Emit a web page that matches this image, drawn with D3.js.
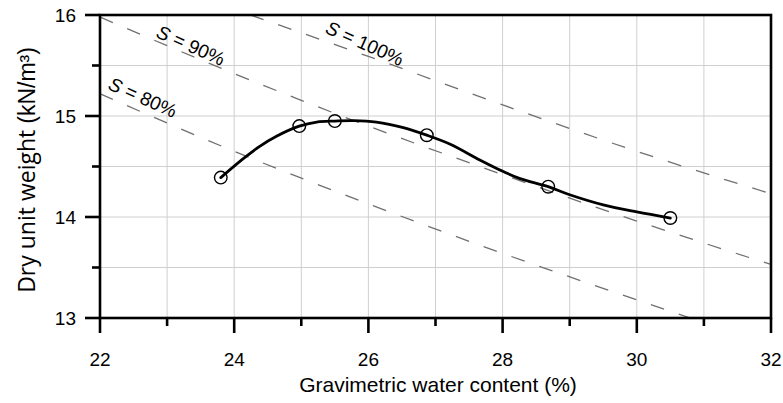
<!DOCTYPE html>
<html>
<head>
<meta charset="utf-8">
<script src="https://cdn.jsdelivr.net/npm/d3@7"></script>
<style>
  html, body { margin: 0; padding: 0; background: #fff; }
  svg { display: block; }
  text { font-family: "Liberation Sans", Arial, sans-serif; fill: #000; }
</style>
</head>
<body>
<svg id="chart" width="783" height="403"></svg>
<script>
// Compaction test results: water content (%) and dry unit weight (kN/m³)
const waterContent = [23.8, 24.97, 25.5, 26.87, 28.68, 30.5];
const dryUnitWeight = [14.39, 14.90, 14.95, 14.81, 14.30, 13.99];

// Fitted compaction curve through the test points (w %, γd kN/m³)
const fitW = [23.80, 24.14, 24.38, 24.63, 24.97, 25.23, 25.50, 25.78, 26.12, 26.52, 26.87,
              27.22, 27.66, 28.01, 28.26, 28.68, 29.00, 29.50, 30.00, 30.50];
const fitG = [14.39, 14.58, 14.70, 14.80, 14.90, 14.94, 14.95, 14.955, 14.94, 14.885, 14.81,
              14.72, 14.565, 14.45, 14.38, 14.30, 14.22, 14.12, 14.05, 13.99];

// Constant degree-of-saturation lines, points along each (w %, γd kN/m³)
const satLevels = [80, 90, 100];
const sat80 = [[22, 15.22], [24, 14.65], [26, 14.13], [28, 13.64], [30, 13.18], [30.8, 13.0]];
const sat90 = [[22, 15.98], [24, 15.42], [26, 14.90], [28, 14.42], [30, 13.96], [32, 13.53]];
const sat100 = [[24.24, 16.0], [26, 15.59], [28, 15.11], [30, 14.65], [32, 14.23]];

// Axis ticks
const xMajorTicks = [22, 24, 26, 28, 30, 32];
const xMinorTicks = [23, 25, 27, 29, 31];
const yMajorTicks = [13, 14, 15, 16];
const yMinorTicks = [13.5, 14.5, 15.5];

const svg = d3.select("#chart");
const plot = { left: 100, right: 771, top: 15, bottom: 318 };

const x = d3.scaleLinear().domain([22, 32]).range([plot.left, plot.right]);
const y = d3.scaleLinear().domain([13, 16]).range([plot.bottom, plot.top]);

svg.append("defs").append("clipPath").attr("id", "plot-clip")
  .append("rect").attr("x", plot.left).attr("y", plot.top)
  .attr("width", plot.right - plot.left).attr("height", plot.bottom - plot.top);

// Grid
const grid = svg.append("g").attr("stroke", "#cfcfcf").attr("stroke-width", 1);
grid.selectAll("line.v").data(xMinorTicks.concat(xMajorTicks.slice(1, -1)))
  .join("line").attr("class", "v")
  .attr("x1", d => x(d)).attr("x2", d => x(d))
  .attr("y1", plot.top).attr("y2", plot.bottom);
grid.selectAll("line.h").data(yMinorTicks.concat(yMajorTicks.slice(1, -1)))
  .join("line").attr("class", "h")
  .attr("x1", plot.left).attr("x2", plot.right)
  .attr("y1", d => y(d)).attr("y2", d => y(d));

// Saturation lines
const satLine = d3.line().x(d => x(d[0])).y(d => y(d[1])).curve(d3.curveMonotoneX);
svg.append("g").attr("clip-path", "url(#plot-clip)")
  .selectAll("path").data([sat80, sat90, sat100]).join("path")
  .attr("d", satLine)
  .attr("fill", "none")
  .attr("stroke", "#707070")
  .attr("stroke-width", 1.3)
  .attr("stroke-dasharray", "14 15.5");

// Saturation labels
const satLabels = [
  { s: satLevels[0], cx: 143, cy: 97 },
  { s: satLevels[1], cx: 191, cy: 45 },
  { s: satLevels[2], cx: 365, cy: 43 }
];
satLabels.forEach(l => {
  const t = svg.append("text")
    .attr("transform", `translate(${l.cx},${l.cy}) rotate(24)`)
    .attr("text-anchor", "middle")
    .attr("dominant-baseline", "central")
    .attr("font-size", 19);
  t.append("tspan").attr("font-style", "italic").text("S");
  t.append("tspan").text(` = ${l.s}%`);
});

// Compaction curve
const fitPts = fitW.map((w, i) => [w, fitG[i]]);
svg.append("path")
  .attr("d", d3.line().x(d => x(d[0])).y(d => y(d[1])).curve(d3.curveCatmullRom.alpha(0.5))(fitPts))
  .attr("fill", "none")
  .attr("stroke", "#000")
  .attr("stroke-width", 2.8)
  .attr("stroke-linecap", "round");

const pts = waterContent.map((w, i) => [w, dryUnitWeight[i]]);
svg.selectAll("circle.pt").data(pts).join("circle").attr("class", "pt")
  .attr("cx", d => x(d[0])).attr("cy", d => y(d[1]))
  .attr("r", 6.3)
  .attr("fill", "none")
  .attr("stroke", "#000")
  .attr("stroke-width", 1.4);

// Frame
svg.append("rect")
  .attr("x", plot.left).attr("y", plot.top)
  .attr("width", plot.right - plot.left).attr("height", plot.bottom - plot.top)
  .attr("fill", "none").attr("stroke", "#000").attr("stroke-width", 2.6);

// Ticks
const ticks = svg.append("g").attr("stroke", "#000").attr("stroke-width", 2.6);
ticks.selectAll("line.xM").data(xMajorTicks).join("line").attr("class", "xM")
  .attr("x1", d => x(d)).attr("x2", d => x(d)).attr("y1", plot.bottom).attr("y2", plot.bottom + 15);
ticks.selectAll("line.xm").data(xMinorTicks).join("line").attr("class", "xm")
  .attr("x1", d => x(d)).attr("x2", d => x(d)).attr("y1", plot.bottom).attr("y2", plot.bottom + 8);
ticks.selectAll("line.yM").data(yMajorTicks).join("line").attr("class", "yM")
  .attr("x1", plot.left - 15).attr("x2", plot.left).attr("y1", d => y(d)).attr("y2", d => y(d));
ticks.selectAll("line.ym").data(yMinorTicks).join("line").attr("class", "ym")
  .attr("x1", plot.left - 8).attr("x2", plot.left).attr("y1", d => y(d)).attr("y2", d => y(d));

// Tick labels
svg.selectAll("text.xl").data(xMajorTicks).join("text").attr("class", "xl")
  .attr("x", d => x(d)).attr("y", 366)
  .attr("text-anchor", "middle").attr("font-size", 19)
  .text(d => d);
svg.selectAll("text.yl").data(yMajorTicks).join("text").attr("class", "yl")
  .attr("x", 76).attr("y", d => y(d)).attr("dy", "0.35em")
  .attr("text-anchor", "end").attr("font-size", 19)
  .text(d => d);

// Axis titles
svg.append("text")
  .attr("x", 438).attr("y", 392)
  .attr("text-anchor", "middle").attr("font-size", 21)
  .text("Gravimetric water content (%)");

const yt = svg.append("text")
  .attr("transform", "translate(35,170) rotate(-90)")
  .attr("text-anchor", "middle").attr("font-size", 23);
yt.append("tspan").attr("font-family", "'Open Sans', sans-serif").text("Dry unit weight ");
yt.append("tspan").text("(kN/m³)");
</script>
</body>
</html>
